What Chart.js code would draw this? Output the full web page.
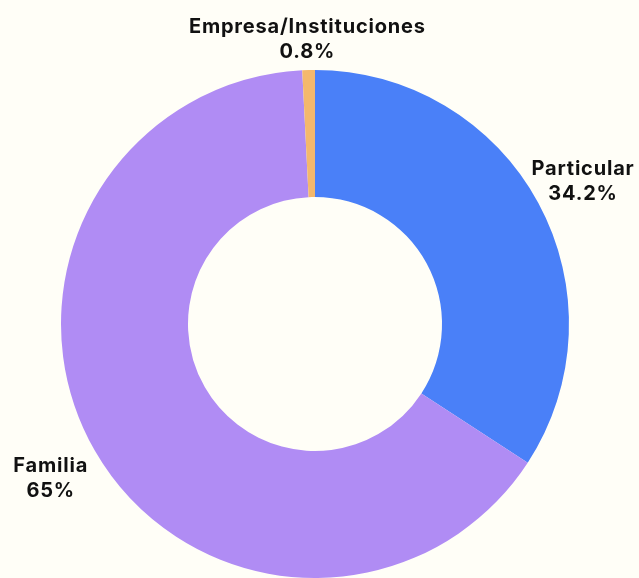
<!DOCTYPE html>
<html>
<head>
<meta charset="utf-8">
<script src="https://cdn.jsdelivr.net/npm/chart.js@4"></script>
<style>
  html, body { margin: 0; padding: 0; background: #fffef7; }
  #wrap { width: 639px; height: 578px; position: relative; }
</style>
</head>
<body>
<div id="wrap"><canvas id="chart"></canvas></div>
<script>
const labels = ['Particular', 'Familia', 'Empresa/Instituciones'];
const shares = [34.2, 65, 0.8];
const colors = ['#4a80f8', '#b08cf4', '#f4b86c'];

// draws "name / value%" outside each slice
const outerLabels = {
  id: 'outerLabels',
  afterDatasetsDraw(chart) {
    const ctx = chart.ctx;
    const meta = chart.getDatasetMeta(0);
    ctx.save();
    ctx.font = 'bold 20px Inter, sans-serif';
    ctx.letterSpacing = '0.8px';
    ctx.fillStyle = '#111111';
    ctx.textAlign = 'center';
    ctx.textBaseline = 'middle';
    meta.data.forEach((arc, i) => {
      const mid = (arc.startAngle + arc.endAngle) / 2;
      const r = arc.outerRadius * 1.2;
      const x = arc.x + Math.cos(mid) * r;
      let y = arc.y + Math.sin(mid) * r + 2;
      y = Math.max(y, 39); // keep top label inside the canvas
      ctx.fillText(labels[i], x, y - 12);
      ctx.fillText(shares[i] + '%', x, y + 13);
    });
    ctx.restore();
  }
};

new Chart(document.getElementById('chart'), {
  type: 'doughnut',
  data: {
    labels: labels,
    datasets: [{
      data: shares,
      backgroundColor: colors,
      borderWidth: 0
    }]
  },
  options: {
    responsive: true,
    maintainAspectRatio: false,
    animation: false,
    cutout: '50%',
    layout: { padding: { top: 70, bottom: -4, left: 0, right: 9 } },
    plugins: {
      legend: { display: false },
      tooltip: { enabled: false }
    }
  },
  plugins: [outerLabels]
});
</script>
</body>
</html>
